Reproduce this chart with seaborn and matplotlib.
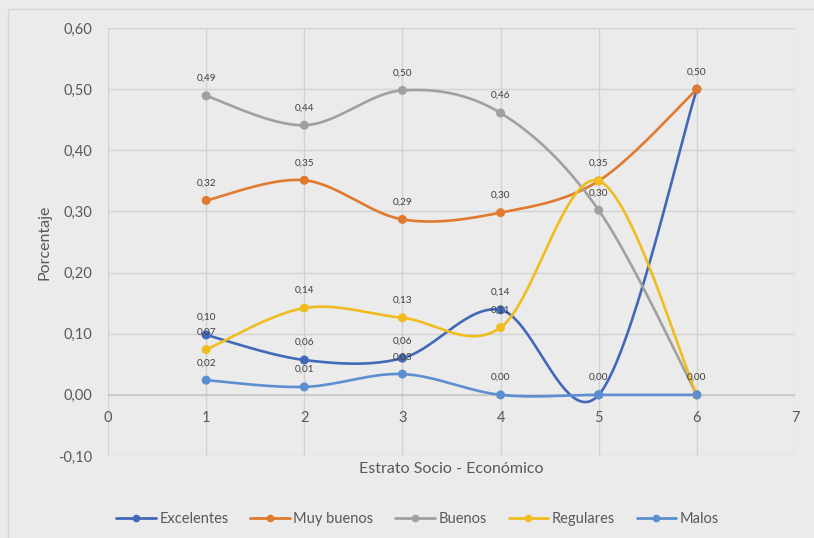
import numpy as np
import pandas as pd
import matplotlib
matplotlib.use("Agg")
import matplotlib.pyplot as plt
import seaborn as sns
from matplotlib.lines import Line2D

# Strata on the x axis and the share of each rating per stratum
estratos = [1, 2, 3, 4, 5, 6]
excelentes = [0.098, 0.057, 0.060, 0.139, 0.000, 0.500]
muy_buenos = [0.318, 0.351, 0.287, 0.298, 0.350, 0.500]
buenos = [0.489, 0.441, 0.498, 0.461, 0.302, 0.000]
regulares = [0.074, 0.142, 0.126, 0.110, 0.350, 0.000]
malos = [0.024, 0.013, 0.034, 0.000, 0.000, 0.000]

series_names = ["Excelentes", "Muy buenos", "Buenos", "Regulares", "Malos"]
series_values = [excelentes, muy_buenos, buenos, regulares, malos]
colors = ["#4169B8", "#E07A2E", "#A0A0A0", "#F0BC1E", "#5B8FD0"]

y_ticks = [-0.10, 0.0, 0.10, 0.20, 0.30, 0.40, 0.50, 0.60]
x_ticks = [0, 1, 2, 3, 4, 5, 6, 7]


def smooth(xs, ys, n=60):
    """Cubic Bezier smoothing through every point (Catmull-Rom control points)."""
    p = np.column_stack([xs, ys]).astype(float)
    ext = np.vstack([p[0], p, p[-1]])
    out = []
    t = np.linspace(0, 1, n)[:, None]
    for i in range(len(p) - 1):
        p0, p1, p2, p3 = ext[i], ext[i + 1], ext[i + 2], ext[i + 3]
        c1 = p1 + (p2 - p0) / 6.0
        c2 = p2 - (p3 - p1) / 6.0
        seg = ((1 - t) ** 3) * p1 + 3 * ((1 - t) ** 2) * t * c1 + 3 * (1 - t) * t ** 2 * c2 + t ** 3 * p2
        out.append(seg if i == 0 else seg[1:])
    return np.vstack(out)


curve_rows = []
point_rows = []
for name, vals in zip(series_names, series_values):
    c = smooth(estratos, vals)
    for k, (cx, cy) in enumerate(c):
        curve_rows.append({"serie": name, "x": cx, "y": cy, "k": k})
    for ex, v in zip(estratos, vals):
        point_rows.append({"serie": name, "x": ex, "y": v})
curves = pd.DataFrame(curve_rows)
points = pd.DataFrame(point_rows)
palette = dict(zip(series_names, colors))

sns.set_theme(style="white")
plt.rcParams["font.family"] = ["Lato", "DejaVu Sans"]
text_color = "#595959"
bg = "#EBEBEB"

fig = plt.figure(figsize=(8.14, 5.38), dpi=100, facecolor=bg)
ax = fig.add_axes([108 / 814, 1 - 456 / 538, (795 - 108) / 814, (456 - 28) / 538])
ax.set_facecolor(bg)

# Chart border
fig.add_artist(plt.Rectangle((8 / 814, -0.01), 1.0, 1 - 9 / 538 + 0.01,
                             transform=fig.transFigure, fill=False,
                             edgecolor="#D4D4D4", linewidth=1.0))

sns.lineplot(data=curves, x="x", y="y", hue="serie", units="serie", estimator=None,
             sort=False, palette=palette, linewidth=1.9, legend=False, ax=ax, zorder=3)
sns.scatterplot(data=points, x="x", y="y", hue="serie", palette=palette, s=42,
                edgecolor="none", legend=False, ax=ax, zorder=4)

# Value labels above each point; coinciding labels are written once
written = set()
for name, vals in zip(series_names, series_values):
    for ex, v in zip(estratos, vals):
        txt = f"{v:.2f}".replace(".", ",")
        if (ex, txt) in written:
            continue
        written.add((ex, txt))
        ax.annotate(txt, (ex, v), xytext=(0, 12.5),
                    textcoords="offset points", ha="center", va="center",
                    fontsize=7.2, color="#404040", zorder=5)

ax.set_xlim(0, 7)
ax.set_ylim(-0.10, 0.60)
ax.set_yticks(y_ticks)
ax.set_yticklabels([f"{t:.2f}".replace(".", ",") for t in y_ticks])
ax.set_xticks(x_ticks)
ax.set_xticklabels([])
for xt in x_ticks:
    ax.text(xt, -0.038, str(xt), ha="center", va="center", fontsize=10.5, color=text_color)

ax.grid(True, color="#D2D2D2", linewidth=1.0)
ax.set_axisbelow(True)
ax.axhline(0, color="#C8C8C8", linewidth=1.2, zorder=1)
for s in ax.spines.values():
    s.set_visible(False)
ax.tick_params(axis="both", length=0, labelsize=10.5, colors=text_color)
ax.tick_params(axis="y", pad=11)

ax.set_xlabel("Estrato Socio - Económico", fontsize=11.5, color=text_color)
ax.xaxis.set_label_coords(0.5, -0.015)
ax.set_ylabel("Porcentaje", fontsize=11.5, color=text_color)
ax.yaxis.set_label_coords(-0.082, 0.5)

handles = [Line2D([0], [0], color=c, linewidth=2.0, marker="o", markersize=4.5) for c in colors]
fig.legend(handles, series_names, loc="center", bbox_to_anchor=(0.513, 1 - 519 / 538),
           ncol=5, frameon=False, fontsize=10.5, labelcolor=text_color,
           handlelength=2.7, handletextpad=0.25, columnspacing=1.5)

fig.savefig("out.png", dpi=100, facecolor=bg)
